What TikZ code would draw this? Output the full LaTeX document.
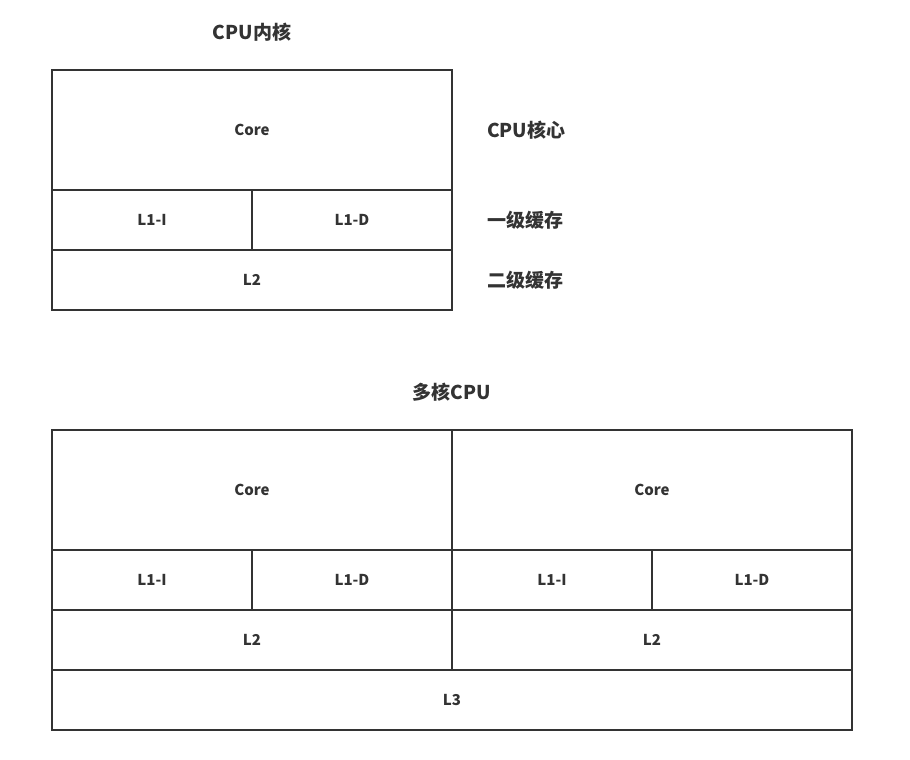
\documentclass[tikz,border=0pt]{standalone}
\usepackage{fontspec}
\setmainfont{Noto Sans CJK SC}
\usetikzlibrary{positioning}
\definecolor{linegray}{HTML}{333333}
\tikzset{cell/.style={rectangle,draw=linegray,line width=1.5pt,inner sep=0pt,outer sep=0pt,
		text=linegray,font=\bfseries\fontsize{15}{18}\selectfont,minimum height=60pt},
		corebox/.style={cell,minimum width=400pt,minimum height=120pt},
		halfbox/.style={cell,minimum width=200pt},
		fullbox/.style={cell,minimum width=400pt},
		note/.style={text=linegray,inner sep=0pt,font=\bfseries\fontsize{19}{22}\selectfont}}

\begin{document}
\begin{tikzpicture}[x=1pt,y=-1pt,node distance=0pt and 0pt]
	\useasboundingbox[fill=white] (0,0) rectangle (910,760);
	% single core
	\node[note] (title-single) at (252,32) {CPU内核};
	\node[corebox,anchor=north west] (core) at (52,70) {Core};
	\node[halfbox] (l1i) [below right=of core.south west] {L1-I};
	\node[halfbox] (l1d) [right=of l1i] {L1-D};
	\node[fullbox] (l2) [below right=of l1i.south west] {L2};
	\node[note,anchor=west] (lbl-core) [right=35pt of core] {CPU核心};
	\node[note,anchor=west] (lbl-l1) [right=35pt of l1d] {一级缓存};
	\node[note,anchor=west] (lbl-l2) [right=35pt of l2] {二级缓存};
	
	% multi core
	\node[note] (title-multi) at (452,392) {多核CPU};
	\node[corebox,anchor=north west] (core-a) at (52,430) {Core};
	\node[corebox] (core-b) [right=of core-a] {Core};
	\node[halfbox] (l1i-a) [below right=of core-a.south west] {L1-I};
	\node[halfbox] (l1d-a) [right=of l1i-a] {L1-D};
	\node[halfbox] (l1i-b) [right=of l1d-a] {L1-I};
	\node[halfbox] (l1d-b) [right=of l1i-b] {L1-D};
	\node[fullbox] (l2-a) [below right=of l1i-a.south west] {L2};
	\node[fullbox] (l2-b) [right=of l2-a] {L2};
	\node[cell,minimum width=800pt] (l3) [below right=of l2-a.south west] {L3};
\end{tikzpicture}
\end{document}
